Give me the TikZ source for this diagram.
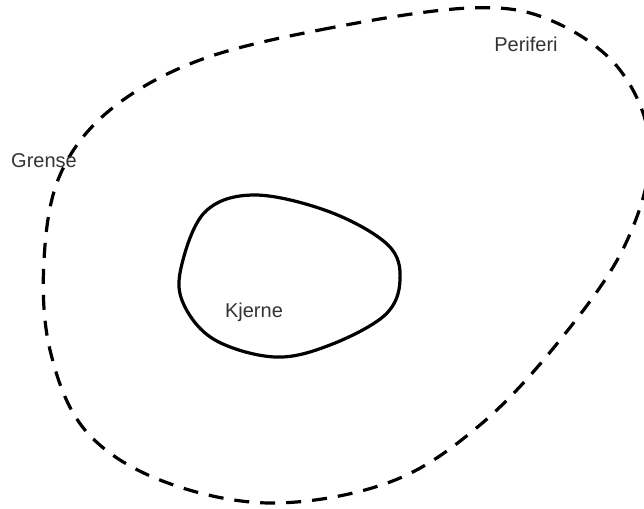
\documentclass[tikz,border=0pt]{standalone}
\usepackage{fontspec}
\setmainfont{Liberation Sans}
\begin{document}
\begin{tikzpicture}[x=1pt,y=-1pt,
  outerline/.style={line width=3.2pt,dash pattern=on 15pt off 11pt},
  innerline/.style={line width=3.2pt},
  lbl/.style={font=\fontsize{20}{24}\selectfont,text=black!80,inner sep=0pt}]
\useasboundingbox (0,0) rectangle (644,508);
\draw[outerline] plot[smooth cycle,tension=0.6] coordinates {
 (470,8) (330,28) (200,60) (110,110) (60,175) (44,260) (50,350) (85,430)
 (160,480) (270,503) (390,482) (480,425) (560,340) (625,245) (650,150)
 (620,70) (550,20)};
\draw[innerline] plot[smooth cycle,tension=0.6] coordinates {
 (181,268) (205,212) (255,195) (330,212) (388,245) (400,280) (385,315)
 (330,345) (275,357) (215,340) (184,305)};
\node[lbl] (kjerne) at (254,312) {Kjerne};
\node[lbl] (grense) at (44,161) {Grense};
\node[lbl] (periferi) at (526,44) {Periferi};
\end{tikzpicture}
\end{document}
